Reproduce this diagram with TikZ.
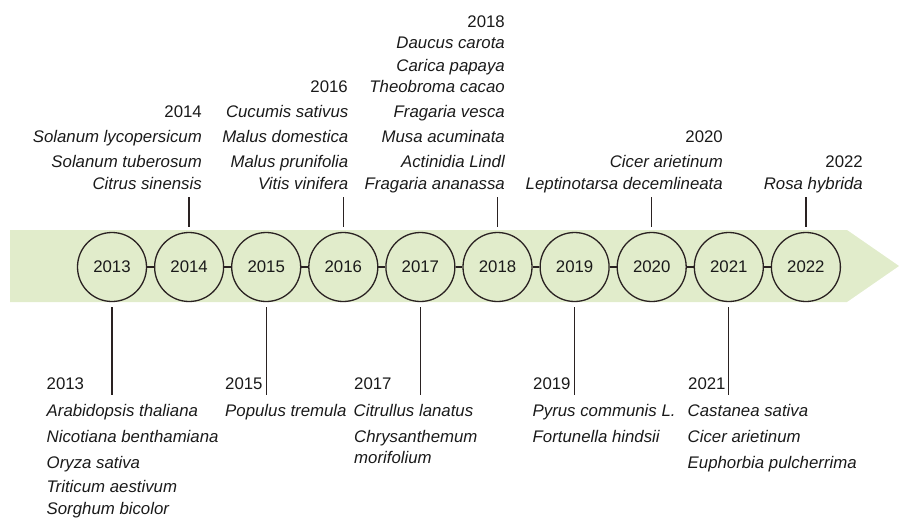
\documentclass[tikz,border=0pt]{standalone}
\usepackage{fontspec}
\setmainfont{Liberation Sans}
\definecolor{band}{HTML}{E1ECCB}
\definecolor{circ}{HTML}{2A2222}
\definecolor{txt}{HTML}{1A1A1A}
\begin{document}
\begin{tikzpicture}[x=1pt,y=-1pt,
  yr/.style={circle, draw=circ, fill=band, line width=1.3pt, minimum size=69pt, inner sep=0pt, text=txt, font=\fontsize{16.8}{19}\selectfont},
  lbl/.style={inner sep=0pt, text=txt, font=\fontsize{16.8}{19}\selectfont},
  sp/.style={inner sep=0pt, text=txt, font=\fontsize{16.8}{19}\selectfont\itshape},
  re/.style={anchor=base east},
  le/.style={anchor=base west},
  tickline/.style={draw=circ, line width=1.3pt},
  link/.style={draw=circ, line width=1.3pt}]
\useasboundingbox (0,0) rectangle (899,517);
% band arrow
\fill[band] (10,230) -- (847,230) -- (899,266) -- (847,302) -- (10,302) -- cycle;
% year circles
\node[yr] (c2013) at (112,267) {2013};
\node[yr] (c2014) at (189.1,267) {2014};
\node[yr] (c2015) at (266.2,267) {2015};
\node[yr] (c2016) at (343.3,267) {2016};
\node[yr] (c2017) at (420.4,267) {2017};
\node[yr] (c2018) at (497.5,267) {2018};
\node[yr] (c2019) at (574.6,267) {2019};
\node[yr] (c2020) at (651.7,267) {2020};
\node[yr] (c2021) at (728.8,267) {2021};
\node[yr] (c2022) at (805.9,267) {2022};
\draw[link] (c2013) -- (c2014);
\draw[link] (c2014) -- (c2015);
\draw[link] (c2015) -- (c2016);
\draw[link] (c2016) -- (c2017);
\draw[link] (c2017) -- (c2018);
\draw[link] (c2018) -- (c2019);
\draw[link] (c2019) -- (c2020);
\draw[link] (c2020) -- (c2021);
\draw[link] (c2021) -- (c2022);
% tick ends
\coordinate (u2014) at (189.1,197);
\coordinate (u2016) at (343.3,197);
\coordinate (u2018) at (497.5,197);
\coordinate (u2020) at (651.7,197);
\coordinate (u2022) at (805.9,197);
\coordinate (d2013) at (112,395);
\coordinate (d2015) at (266.2,395);
\coordinate (d2017) at (420.4,395);
\coordinate (d2019) at (574.6,395);
\coordinate (d2021) at (728.8,395);
\draw[tickline] ([yshift=5pt]c2014.north) -- (u2014);
\draw[tickline] ([yshift=5pt]c2016.north) -- (u2016);
\draw[tickline] ([yshift=5pt]c2018.north) -- (u2018);
\draw[tickline] ([yshift=5pt]c2020.north) -- (u2020);
\draw[tickline] ([yshift=5pt]c2022.north) -- (u2022);
\draw[tickline] ([yshift=-5pt]c2013.south) -- (d2013);
\draw[tickline] ([yshift=-5pt]c2015.south) -- (d2015);
\draw[tickline] ([yshift=-5pt]c2017.south) -- (d2017);
\draw[tickline] ([yshift=-5pt]c2019.south) -- (d2019);
\draw[tickline] ([yshift=-5pt]c2021.south) -- (d2021);
% upper labels: 2014
\node[lbl,re] (h2014) at (202,117) {2014};
\node[sp,re] (s2014a) at (202,142) {Solanum lycopersicum};
\node[sp,re] (s2014b) at (202,167) {Solanum tuberosum};
\node[sp,re] (s2014c) at (202,189) {Citrus sinensis};
% 2016
\node[lbl,re] (h2016) at (348,92) {2016};
\node[sp,re] (s2016a) at (348.5,117) {Cucumis sativus};
\node[sp,re] (s2016b) at (348.5,142) {Malus domestica};
\node[sp,re] (s2016c) at (348.5,167) {Malus prunifolia};
\node[sp,re] (s2016d) at (348.5,189) {Vitis vinifera};
% 2018
\node[lbl,re] (h2018) at (505,27) {2018};
\node[sp,re] (s2018a) at (505,48) {Daucus carota};
\node[sp,re] (s2018b) at (505,71) {Carica papaya};
\node[sp,re] (s2018c) at (505,92) {Theobroma cacao};
\node[sp,re] (s2018d) at (505,117) {Fragaria vesca};
\node[sp,re] (s2018e) at (505,142) {Musa acuminata};
\node[sp,re] (s2018f) at (505,167) {Actinidia Lindl};
\node[sp,re] (s2018g) at (505,189) {Fragaria ananassa};
% 2020
\node[lbl,re] (h2020) at (723,142) {2020};
\node[sp,re] (s2020a) at (723,167) {Cicer arietinum};
\node[sp,re] (s2020b) at (723,189) {Leptinotarsa decemlineata};
% 2022
\node[lbl,re] (h2022) at (863,167) {2022};
\node[sp,re] (s2022a) at (863,189) {Rosa hybrida};
% lower labels: 2013
\node[lbl,le] (h2013) at (46.5,389) {2013};
\node[sp,le] (s2013a) at (46.5,416) {Arabidopsis thaliana};
\node[sp,le] (s2013b) at (46.5,442) {Nicotiana benthamiana};
\node[sp,le] (s2013c) at (46.5,468) {Oryza sativa};
\node[sp,le] (s2013d) at (46.5,492) {Triticum aestivum};
\node[sp,le] (s2013e) at (46.5,514) {Sorghum bicolor};
% 2015
\node[lbl,le] (h2015) at (225,389) {2015};
\node[sp,le] (s2015a) at (225,416) {Populus tremula};
% 2017
\node[lbl,le] (h2017) at (354,389) {2017};
\node[sp,le] (s2017a) at (353.5,416) {Citrullus lanatus};
\node[sp,le] (s2017b) at (354,442) {Chrysanthemum};
\node[sp,le] (s2017c) at (354,463) {morifolium};
% 2019
\node[lbl,le] (h2019) at (533,389) {2019};
\node[sp,le] (s2019a) at (532.5,416) {Pyrus communis L.};
\node[sp,le] (s2019b) at (532.5,442) {Fortunella hindsii};
% 2021
\node[lbl,le] (h2021) at (688,389) {2021};
\node[sp,le] (s2021a) at (687.5,416) {Castanea sativa};
\node[sp,le] (s2021b) at (687.5,442) {Cicer arietinum};
\node[sp,le] (s2021c) at (687.5,468) {Euphorbia pulcherrima};
\end{tikzpicture}
\end{document}
